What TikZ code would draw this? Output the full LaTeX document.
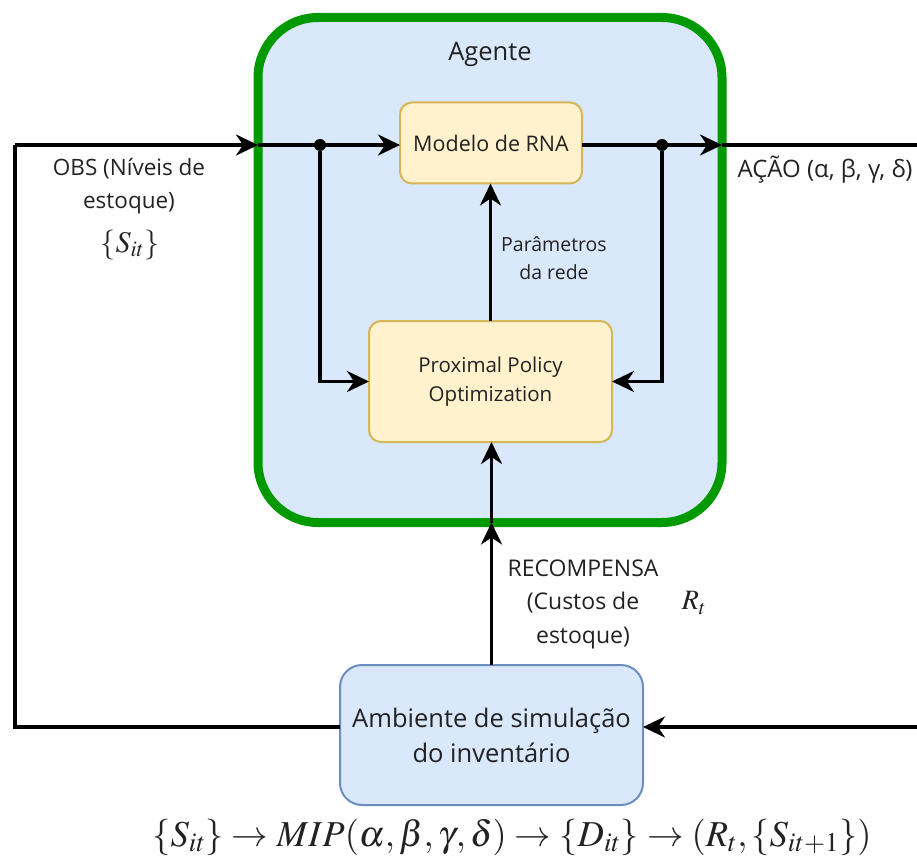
\documentclass[tikz,border=0pt]{standalone}
\usepackage{mathptmx}
\usepackage{fontspec}
\setmainfont{Open Sans}
\usetikzlibrary{arrows.meta}
\definecolor{agentfill}{HTML}{DAE8FC}
\definecolor{agentline}{HTML}{009900}
\definecolor{boxfill}{HTML}{FFF2CC}
\definecolor{boxline}{HTML}{D6B656}
\definecolor{envline}{HTML}{6C8EBF}
\definecolor{txt}{HTML}{222222}
\tikzset{
  wire/.style={line width=3.2pt, black},
  tip/.style={-{Stealth[length=22pt,width=21pt,inset=7pt]}},
  agentbox/.style={draw=agentline, fill=agentfill, line width=9pt, rounded corners=60pt,
    minimum width=464pt, minimum height=505pt, outer sep=0pt},
  procbox/.style={draw=boxline, fill=boxfill, line width=2pt, rounded corners=12pt,
    align=center, text=txt, outer sep=0pt},
  envbox/.style={draw=envline, fill=agentfill, line width=2pt, rounded corners=22pt,
    align=center, text=txt, outer sep=0pt},
  lbl/.style={text=txt, align=center},
  junction/.style={circle, fill=black, inner sep=0pt, minimum size=12pt}
}
\begin{document}
\begin{tikzpicture}[x=1pt,y=-1pt]
\useasboundingbox (0,0) rectangle (917,866);

% agent container and its inner blocks
\node[agentbox] (agent) at (490,270) {};
\node[lbl, font=\fontsize{25.5}{30}\selectfont] (agtitle) at (490,54) {Agente};
\node[procbox, minimum width=182pt, minimum height=81pt,
      font=\fontsize{21.5}{26}\selectfont] (rna) at (491,143) {Modelo de RNA};
\node[procbox, minimum width=243pt, minimum height=121pt,
      font=\fontsize{20.5}{29}\selectfont] (ppo) at (490.5,381.5) {Proximal Policy\\Optimization};
\node[envbox, minimum width=303pt, minimum height=140pt,
      font=\fontsize{25.5}{35}\selectfont] (env) at (491.5,735) {Ambiente de simulação\\do inventário};

% wiring points
\coordinate (ct) at (15,145);
\coordinate (cl) at (15,727);
\coordinate (cr) at (917,145);
\coordinate (crb) at (917,727);
\node[junction] (dl) at (320,145) {};
\node[junction] (dr) at (662,145) {};

% observation loop
\draw[wire] (cl -| env.west) -- (cl) -- (ct);
\draw[wire, tip] (ct) -- (ct -| agent.west);
\draw[wire, tip] (agent.west |- ct) -- (ct -| rna.west);
\draw[wire, tip] (dl) |- (ppo.west);

% action output
\draw[wire] (ct -| rna.east) -- (dr.center);
\draw[wire, tip] (dr.center) -- (ct -| agent.east);
\draw[wire] (ct -| agent.east) -- (cr);
\draw[wire, tip] (dr) |- (ppo.east);
\draw[wire, tip] (crb) -- (crb -| env.east);

% parameters and reward
\draw[wire, tip] (ppo.north) -- (ppo.north |- rna.south);
\draw[wire, tip] (env.north) -- (env.north |- agent.south);
\draw[wire, tip] (env.north |- agent.south) -- (env.north |- ppo.south);

% labels
\node[lbl, font=\fontsize{22.5}{33}\selectfont] (obs) at (129,186) {OBS (Níveis de\\estoque)};
\node[lbl, font=\fontsize{30}{34}\selectfont] (sit) at (130,245) {$\{S_{it}\}$};
\node[lbl, anchor=west, font=\fontsize{24}{26}\selectfont] (acao) at (734,170) {AÇÃO (α, β, γ, δ)};
\node[lbl, font=\fontsize{19.5}{28}\selectfont] (param) at (554,258) {Parâmetros\\da rede};
\node[lbl, font=\fontsize{23}{33.5}\selectfont] (recomp) at (583,604) {RECOMPENSA\\(Custos de\\estoque)};
\node[lbl, font=\fontsize{28}{30}\selectfont] (rt) at (694,603) {$R_t$};
\node[lbl, font=\fontsize{36.5}{40}\selectfont] (flow) at (512,837)
  {$\{S_{it}\}\rightarrow MIP(\alpha,\beta,\gamma,\delta)\rightarrow\{D_{it}\}\rightarrow(R_t,\{S_{it+1}\})$};
\end{tikzpicture}
\end{document}
